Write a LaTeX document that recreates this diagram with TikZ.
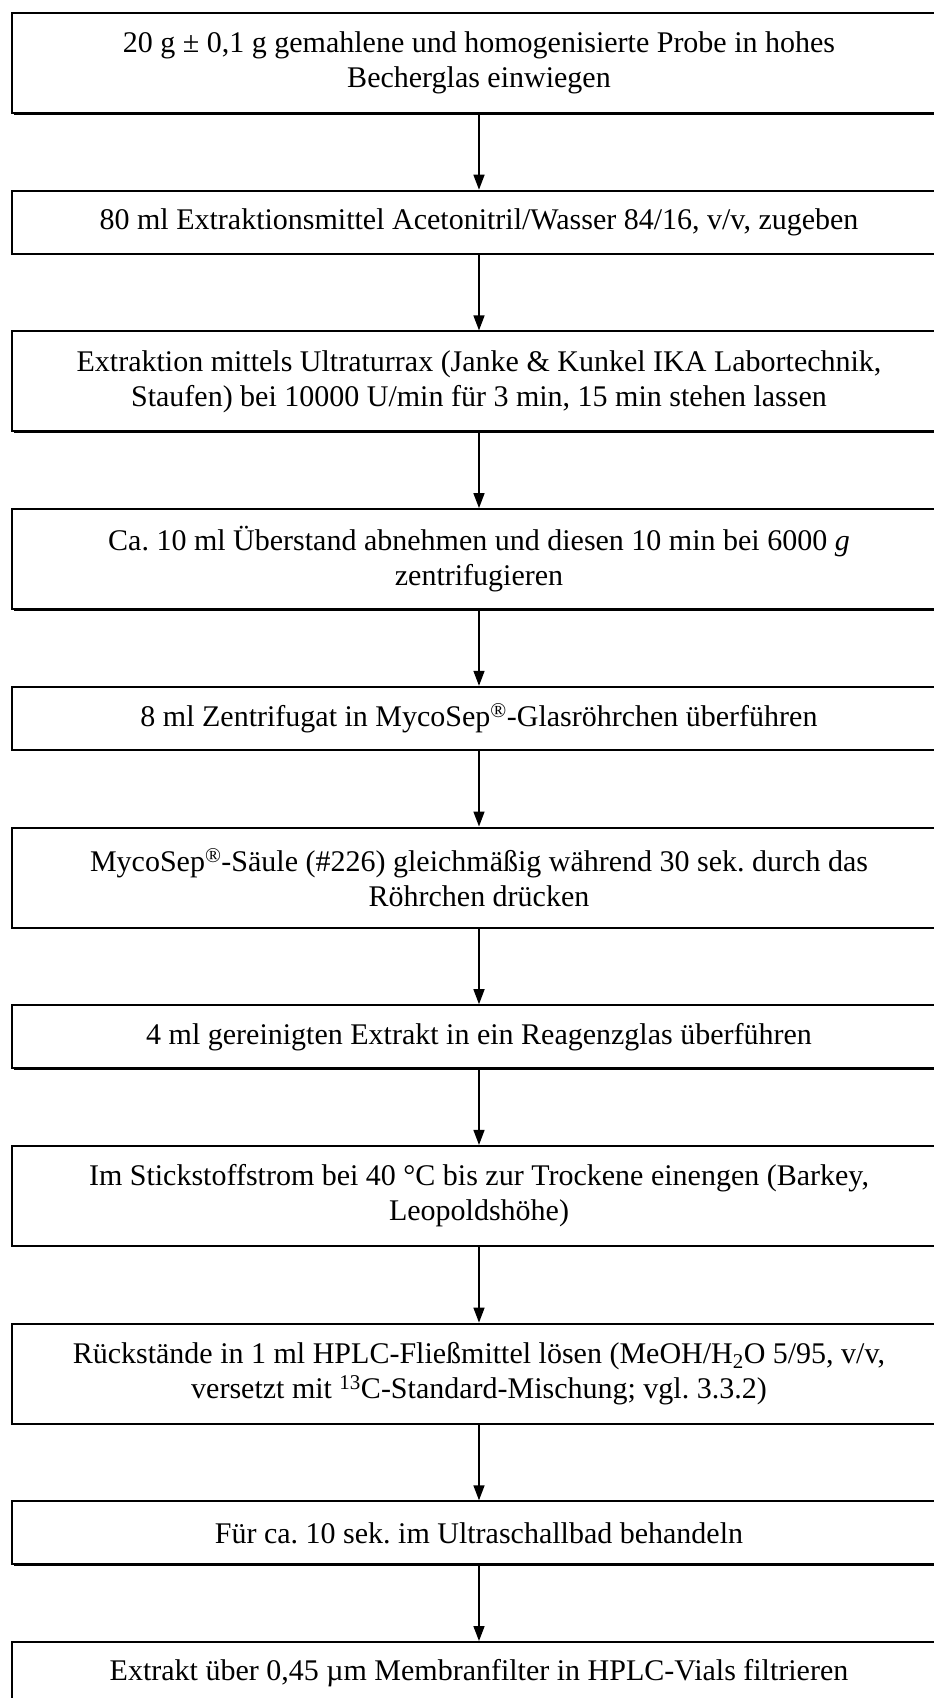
\documentclass[tikz,border=0pt]{standalone}
\usepackage{fontspec}
\setmainfont{Liberation Serif}
\usetikzlibrary{positioning,arrows.meta,shadows}
\tikzset{
    proc/.style  = {rectangle,
                    fill=white,
                    draw=black,
                    text=black,
                    line width=2pt,
                    align=center,
                    inner sep=0pt,
                    minimum width=934pt,
                    minimum height=63pt,
                    font=\fontsize{30}{35}\selectfont\frenchspacing,
                    drop shadow={shadow xshift=1.5pt,shadow yshift=-1.5pt,opacity=1,fill=black}},
    proc2/.style = {proc,
                    minimum height=100pt},
    flow/.style  = {line width=1.5pt,
                    -{Triangle[length=15pt,width=11pt]}},
    node distance=75.7pt}

\begin{document}
\begin{tikzpicture}[x=1pt,y=-1pt]
    \useasboundingbox (0,0) rectangle (934,1698);
    \clip (0,0) rectangle (934,1698);
                \node[proc2]  (s1)  at (479,63)     {20 g ± 0,1 g gemahlene und homogenisierte Probe in hohes\\Becherglas einwiegen};
                \node[proc]   (s2)  [below=of s1]   {80 ml Extraktionsmittel Acetonitril/Wasser 84/16, v/v, zugeben};
                \node[proc2]  (s3)  [below=of s2]   {Extraktion mittels Ultraturrax (Janke \& Kunkel IKA Labortechnik,\\Staufen) bei 10000 U/min für 3 min, 15 min stehen lassen};
                \node[proc2]  (s4)  [below=of s3]   {Ca. 10 ml Überstand abnehmen und diesen 10 min bei 6000 \textit{g}\\zentrifugieren};
                \node[proc]   (s5)  [below=of s4]   {8 ml Zentrifugat in MycoSep\textsuperscript{\textregistered}-Glasröhrchen überführen};
                \node[proc2]  (s6)  [below=of s5]   {MycoSep\textsuperscript{\textregistered}-Säule (\#226) gleichmäßig während 30 sek. durch das\\Röhrchen drücken};
                \node[proc]   (s7)  [below=of s6]   {4 ml gereinigten Extrakt in ein Reagenzglas überführen};
                \node[proc2]  (s8)  [below=of s7]   {Im Stickstoffstrom bei 40 °C bis zur Trockene einengen (Barkey,\\Leopoldshöhe)};
                \node[proc2]  (s9)  [below=of s8]   {Rückstände in 1 ml HPLC-Fließmittel lösen (MeOH/H\textsubscript{2}O 5/95, v/v,\\versetzt mit \textsuperscript{13}C-Standard-Mischung; vgl. 3.3.2)};
                \node[proc]   (s10) [below=of s9]   {Für ca. 10 sek. im Ultraschallbad behandeln};
                \node[proc]   (s11) [below=of s10]  {Extrakt über 0,45 µm Membranfilter in HPLC-Vials filtrieren};

                \path [flow]    (s1) edge (s2)
                                (s2) edge (s3)
                                (s3) edge (s4)
                                (s4) edge (s5)
                                (s5) edge (s6)
                                (s6) edge (s7)
                                (s7) edge (s8)
                                (s8) edge (s9)
                                (s9) edge (s10)
                                (s10) edge (s11);
\end{tikzpicture}
\end{document}
